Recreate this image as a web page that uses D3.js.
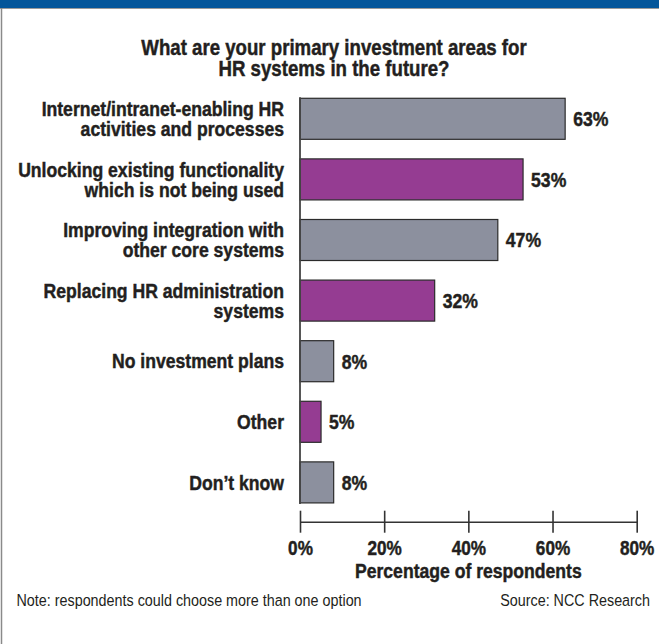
<!DOCTYPE html>
<html>
<head>
<meta charset="utf-8">
<script src="https://cdn.jsdelivr.net/npm/d3@7"></script>
<style>
  html, body { margin: 0; padding: 0; background: #fff; }
  svg { display: block; }
  text { font-family: "Liberation Sans", Arial, Helvetica, sans-serif; fill: #231f20; }
  text.heavy { stroke: #231f20; stroke-width: 0.45px; }
</style>
</head>
<body>
<script>
// Survey answers, top to bottom
const categories = [
  ["Internet/intranet-enabling HR", "activities and processes"],
  ["Unlocking existing functionality", "which is not being used"],
  ["Improving integration with", "other core systems"],
  ["Replacing HR administration", "systems"],
  ["No investment plans"],
  ["Other"],
  ["Don\u2019t know"]
];
const values = [63, 53, 47, 32, 8, 5, 8];
const barColors = ["#8c909e", "#953c92", "#8c909e", "#953c92", "#8c909e", "#953c92", "#8c909e"];
const tickValues = [0, 20, 40, 60, 80];
const titleLines = ["What are your primary investment areas for", "HR systems in the future?"];
const axisTitle = "Percentage of respondents";
const note = "Note: respondents could choose more than one option";
const source = "Source: NCC Research";

const W = 659, H = 644;
const SX = 0.88; // horizontal squeeze giving a condensed face
const svg = d3.select("body").append("svg").attr("width", W).attr("height", H);

// text anchored at (x, y), squeezed horizontally; first line shifted by dy0
function ctext(parent, x, y, lines, size, opts = {}) {
  const g = parent.append("g").attr("transform", `translate(${x},${y}) scale(${SX},1)`);
  const bold = (opts.weight || "bold") === "bold";
  const t = g.append("text")
    .attr("class", bold ? "heavy" : null)
    .attr("text-anchor", opts.anchor || "start")
    .style("font-size", size + "px")
    .style("font-weight", opts.weight || "bold");
  const arr = Array.isArray(lines) ? lines : [lines];
  t.selectAll("tspan").data(arr).join("tspan")
    .attr("x", 0)
    .attr("dy", (d, i) => i ? (opts.lineH || size) : (opts.dy0 || 0))
    .text(d => d);
  return t;
}

// frame: blue band on top, thin rule below it and down the left side
svg.append("rect").attr("x", 0).attr("y", 0).attr("width", W).attr("height", 8).attr("fill", "#04569a");
svg.append("line").attr("x1", 0).attr("x2", W).attr("y1", 8.5).attr("y2", 8.5).attr("stroke", "#9a9a9a").attr("stroke-width", 1);
svg.append("line").attr("x1", 1.5).attr("x2", 1.5).attr("y1", 8).attr("y2", H).attr("stroke", "#8a8a8a").attr("stroke-width", 1.5);

// title
ctext(svg, 334, 54.5, titleLines, 21.2, { anchor: "middle", lineH: 21.5 });

// scales
const x = d3.scaleLinear().domain([0, 80]).range([300, 636.7]);
const y = d3.scaleBand()
  .domain(d3.range(categories.length))
  .range([88.5, 88.5 + 60.6 * categories.length])
  .paddingInner(0.323).paddingOuter(0.1615);

// bars
svg.append("g").selectAll("rect").data(values).join("rect")
  .attr("x", x(0))
  .attr("y", (d, i) => y(i))
  .attr("width", d => x(d) - x(0))
  .attr("height", y.bandwidth())
  .attr("fill", (d, i) => barColors[i])
  .attr("stroke", "#2b2b2b")
  .attr("stroke-width", 1.2);

// vertical baseline
svg.append("line")
  .attr("x1", x(0)).attr("x2", x(0))
  .attr("y1", y(0) - 1).attr("y2", y(categories.length - 1) + y.bandwidth() + 1)
  .attr("stroke", "#444").attr("stroke-width", 1.8);

// value labels
values.forEach((v, i) => {
  ctext(svg, x(v) + 8, y(i) + y.bandwidth() / 2, v + "%", 20, { dy0: "0.37em" });
});

// category labels
const lineH = 20;
categories.forEach((c, i) => {
  const cy = y(i) + y.bandwidth() / 2 - (c.length - 1) * lineH / 2;
  ctext(svg, 284, cy, c, 20, { anchor: "end", lineH, dy0: "0.36em" });
});

// x axis
const axisY = 521.7;
const xAxis = svg.append("g").attr("transform", `translate(0,${axisY})`)
  .call(d3.axisBottom(x).tickValues(tickValues).tickFormat(d => d + "%").tickSize(11).tickSizeOuter(0));
xAxis.select(".domain").attr("stroke", "#333").attr("stroke-width", 1.6);
xAxis.selectAll(".tick line").attr("stroke", "#333").attr("stroke-width", 1.6).attr("y1", -11).attr("y2", 11);
xAxis.selectAll(".tick text")
  .attr("class", "heavy")
  .attr("fill", "#231f20")
  .attr("y", 33.3).attr("dy", 0)
  .attr("transform", `scale(${SX},1)`)
  .style("font-family", "\"Liberation Sans\", Arial, sans-serif")
  .style("font-size", "19.5px").style("font-weight", "bold");

ctext(svg, (x(0) + x(80)) / 2, 578, axisTitle, 20, { anchor: "middle" });

// footnotes
ctext(svg, 16.5, 606, note, 16.3, { weight: "normal" });
ctext(svg, 650, 606, source, 16.3, { weight: "normal", anchor: "end" });
</script>
</body>
</html>
